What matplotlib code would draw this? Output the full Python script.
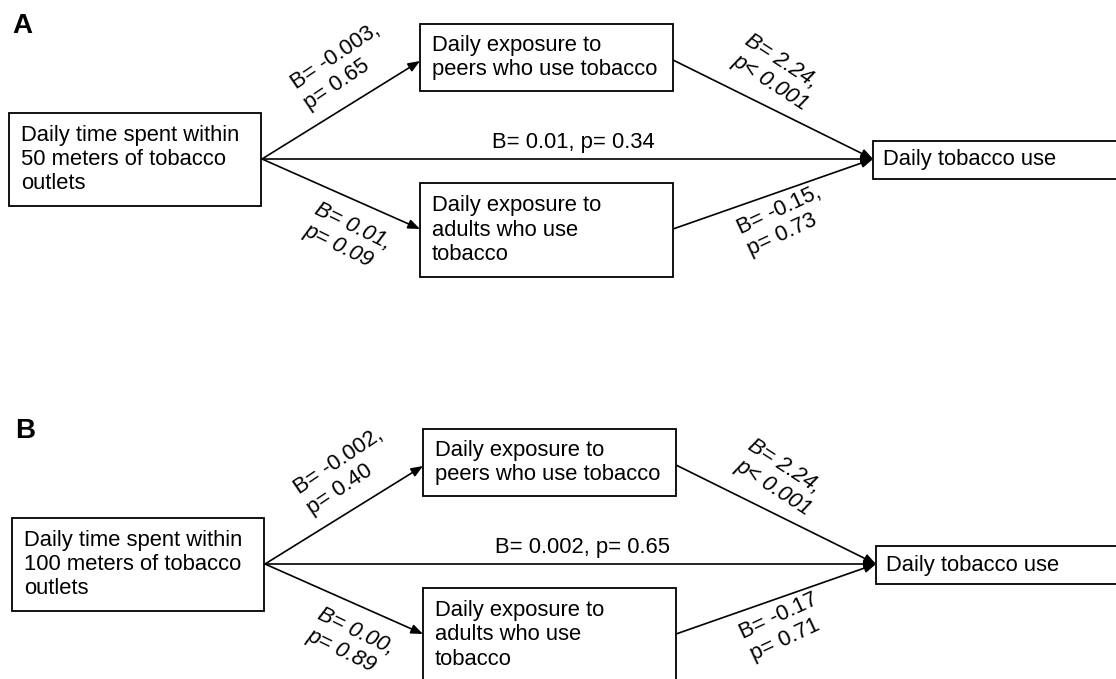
import matplotlib
matplotlib.use("Agg")
import matplotlib.pyplot as plt
from matplotlib.patches import Rectangle, FancyArrowPatch
import numpy as np

plt.rcParams["font.family"] = ["Liberation Sans", "DejaVu Sans"]

# data: one entry per panel
panels = ["A", "B"]
distances = ["50", "100"]
peer_path = ["B= -0.003,\np= 0.65", "B= -0.002,\np= 0.40"]
adult_path = ["B= 0.01,\np= 0.09", "B= 0.00,\np= 0.89"]
peer_to_use = ["B= 2.24,\np< 0.001", "B= 2.24,\np< 0.001"]
adult_to_use = ["B= -0.15,\np= 0.73", "B= -0.17\np= 0.71"]
direct_path = ["B= 0.01, p= 0.34", "B= 0.002, p= 0.65"]

exposure_text = "Daily time spent within\n{} meters of tobacco\noutlets"
peer_text = "Daily exposure to\npeers who use tobacco"
adult_text = "Daily exposure to\nadults who use\ntobacco"
outcome_text = "Daily tobacco use"

# layout (pixel coordinates, y down)
W, H = 1116, 679
offsets = [(0, 0), (3, 405)]
FS = 15.8
LINE_PX = 26.4

fig = plt.figure(figsize=(W / 100, H / 100), dpi=100)
ax = fig.add_axes([0, 0, 1, 1])
ax.set_xlim(0, W)
ax.set_ylim(H, 0)
ax.axis("off")


def box(x0, y0, x1, y1, text, tx):
    ax.add_patch(Rectangle((x0, y0), x1 - x0, y1 - y0, facecolor="white",
                           edgecolor="black", lw=1.3, zorder=2))
    ax.text(tx, (y0 + y1) / 2, text, ha="left", va="center", fontsize=FS,
            linespacing=1.2, zorder=3)


def arrow(p0, p1):
    ax.add_patch(FancyArrowPatch(p0, p1, arrowstyle="-|>,head_length=0.7,head_width=0.28",
                                 mutation_scale=10, shrinkA=0, shrinkB=0,
                                 lw=1.2, color="black", zorder=1))


def slanted(x, y, text, angle, italic=False):
    # (x, y) is the baseline start of the first line; matplotlib anchors
    # multi-line text at the last baseline, so shift down along the rotated frame
    n = text.count("\n")
    a = np.radians(angle)
    x += n * LINE_PX * np.sin(a)
    y += n * LINE_PX * np.cos(a)
    ax.text(x, y, text, ha="left", va="baseline", rotation=angle,
            rotation_mode="anchor", fontsize=FS, linespacing=1.2,
            style="italic" if italic else "normal")


for i, name in enumerate(panels):
    dx, dy = offsets[i]
    ax.text(12 + dx, 33 + dy, name, fontsize=20, fontweight="bold",
            ha="left", va="baseline")

    box(9 + dx, 113 + dy, 261 + dx, 206 + dy, exposure_text.format(distances[i]), 21 + dx)
    box(420 + dx, 24 + dy, 673 + dx, 91 + dy, peer_text, 432 + dx)
    box(420 + dx, 183 + dy, 673 + dx, 277 + dy, adult_text, 432 + dx)
    box(873 + dx, 141 + dy, 1130, 179 + dy, outcome_text, 883 + dx)

    src = (262 + dx, 159 + dy)
    dst = (873 + dx, 159 + dy)
    arrow(src, (420 + dx, 61 + dy))
    arrow(src, (420 + dx, 229 + dy))
    arrow(src, dst)
    arrow((673 + dx, 60 + dy), dst)
    arrow((673 + dx, 229 + dy), dst)

    slanted(293 + dx, 85 + dy, peer_path[i], 34)
    slanted(316 + dx, 208 + dy, adult_path[i], -26, italic=True)
    slanted(747 + dx, 39 + dy, peer_to_use[i], -33, italic=True)
    slanted(738 + dx, 229 + dy, adult_to_use[i], 25)
    ax.text(492 + dx, 148 + dy, direct_path[i], ha="left", va="baseline", fontsize=FS)

fig.savefig("out.png", dpi=100)
